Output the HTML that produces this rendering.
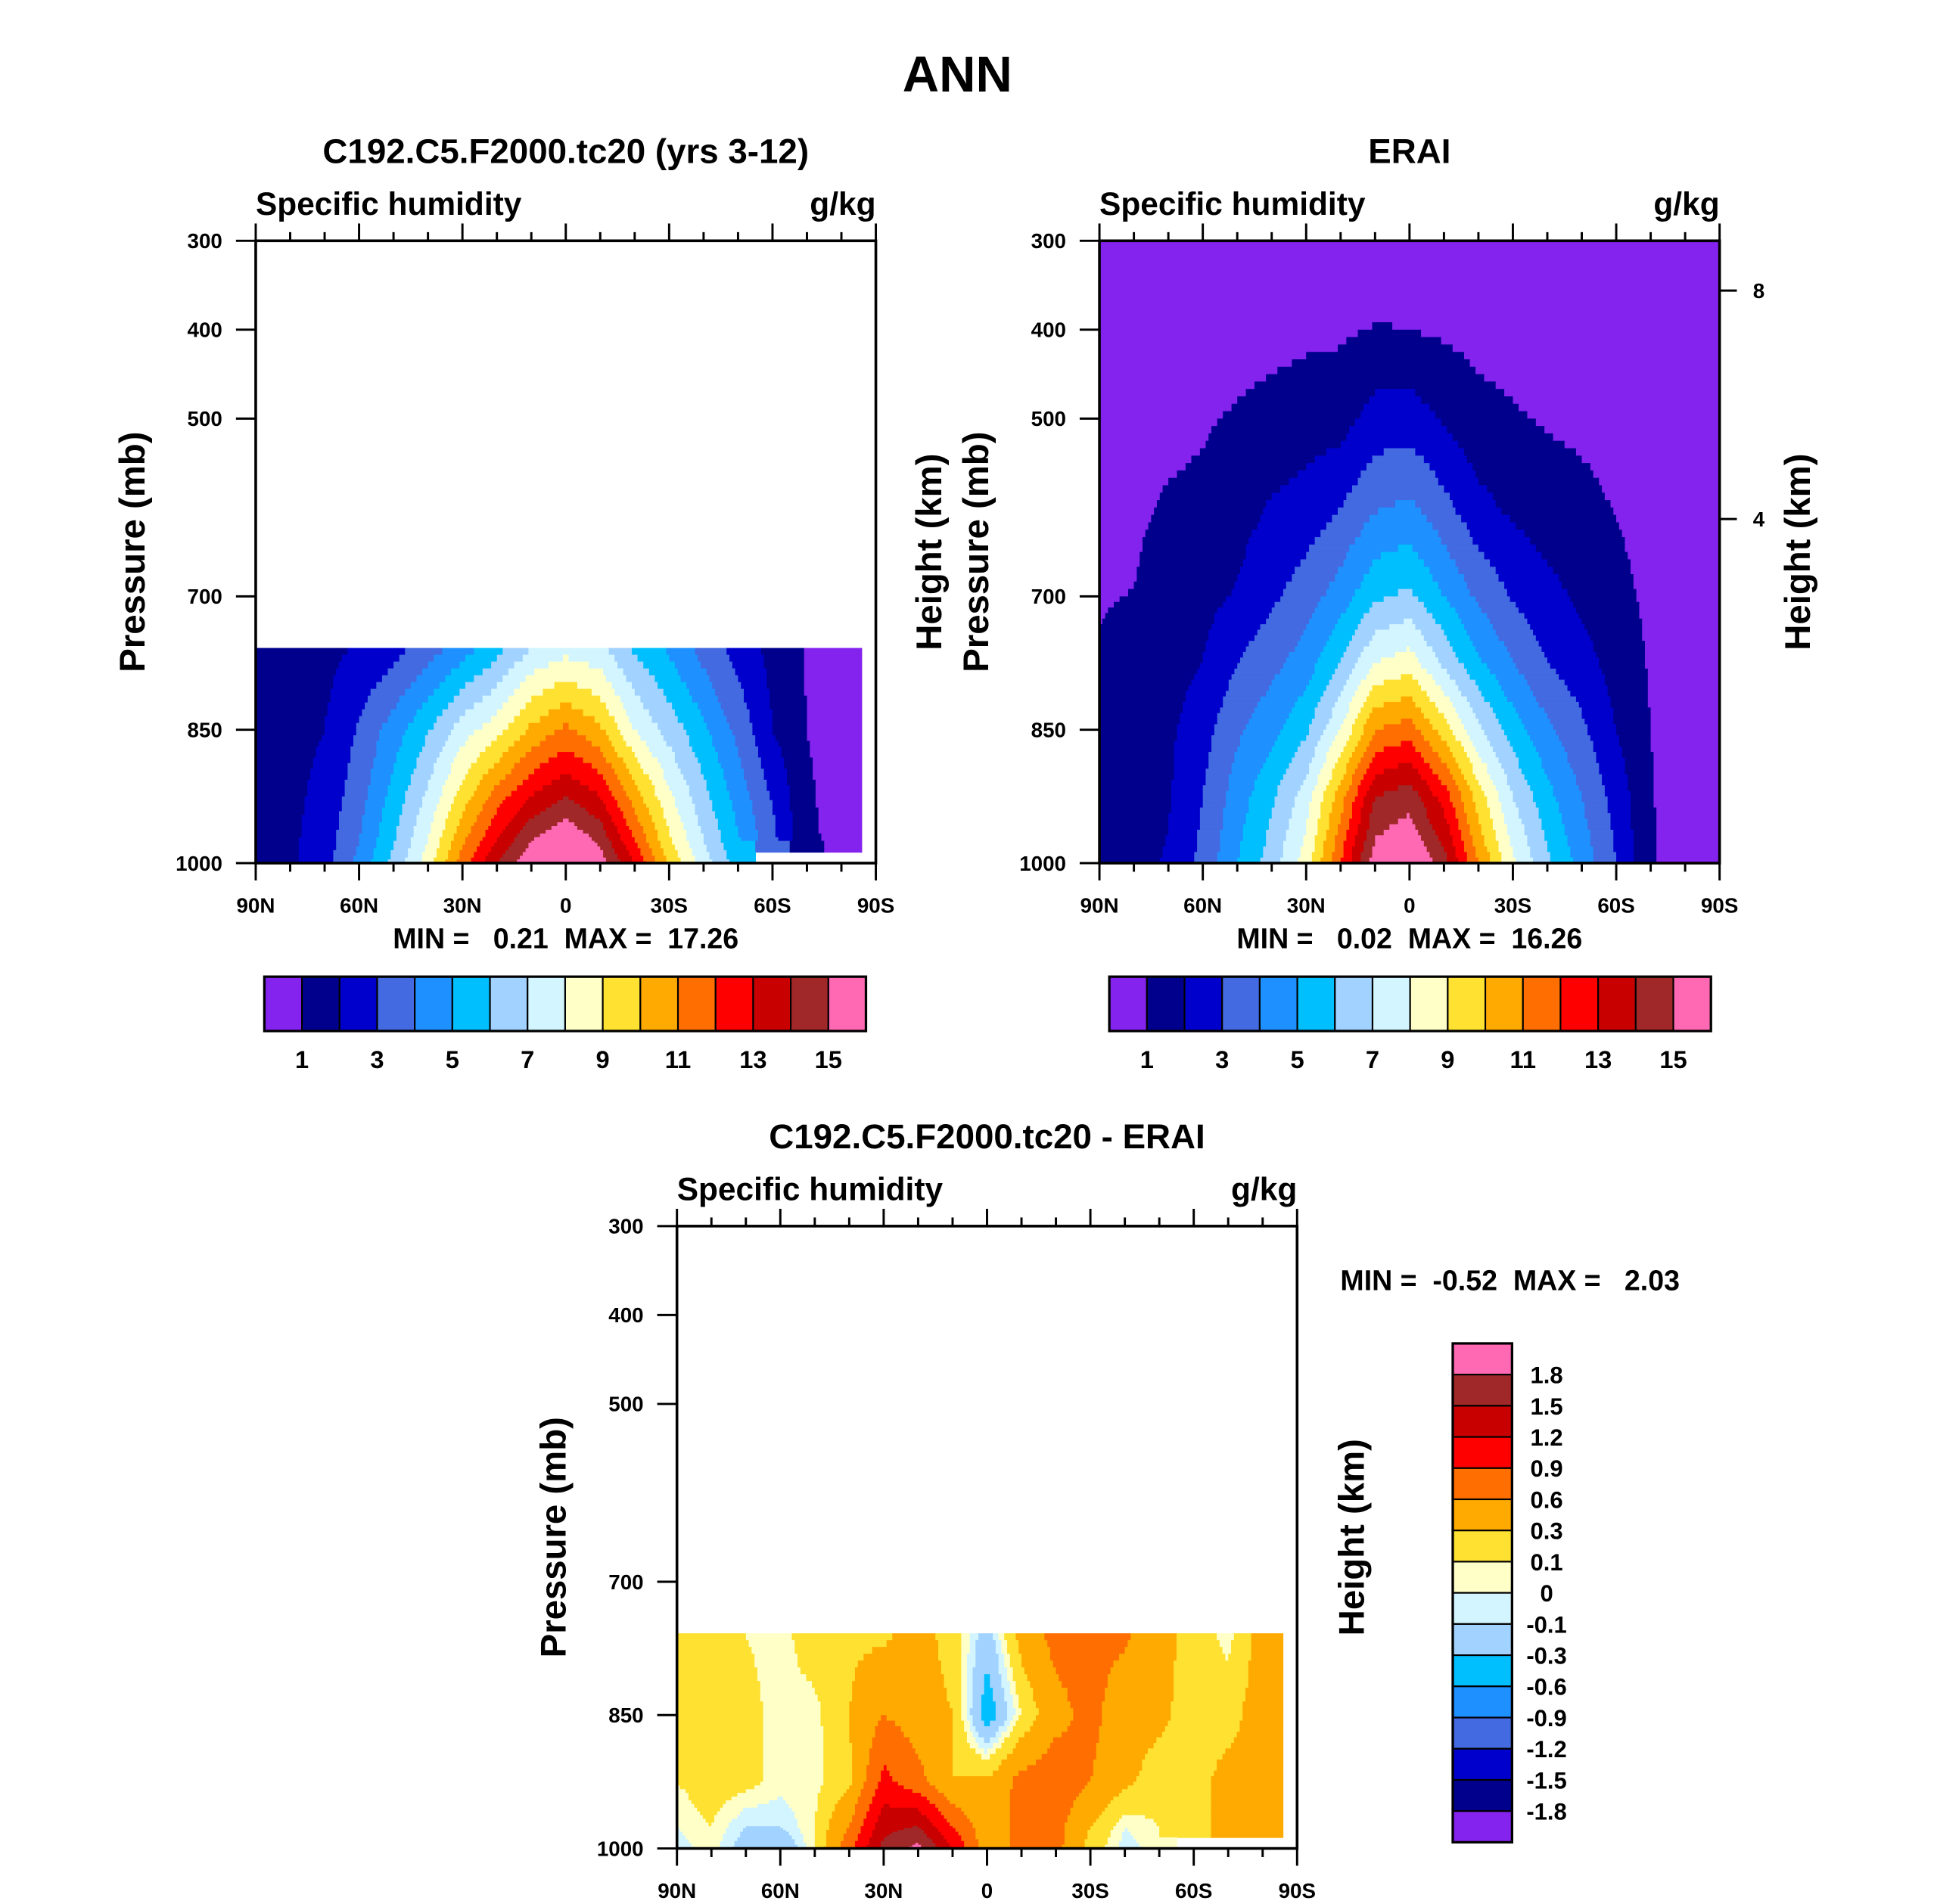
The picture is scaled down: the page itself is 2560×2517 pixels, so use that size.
<!DOCTYPE html>
<html><head><meta charset="utf-8"><style>
html,body{margin:0;padding:0;background:#fff;}
svg{display:block;font-family:"Liberation Sans",sans-serif;font-weight:bold;}
</style></head><body>
<svg id="fig" width="2560" height="2517" viewBox="0 0 1568 1542" preserveAspectRatio="none" xmlns="http://www.w3.org/2000/svg">
<text x="775" y="74" font-size="41" text-anchor="middle">ANN</text>
</svg>
<script>
// ---------- data ----------
const lats = [90,80,70,60,50,40,30,20,10,0,-10,-20,-30,-40,-50,-60,-70,-80,-90];
const latTicks = [90,60,30,0,-30,-60,-90];
const latTickLabels = ["90N","60N","30N","0","30S","60S","90S"];
const presTicks = [300,400,500,700,850,1000];
const heightTicks = [8,4];
const heightTickPres = [356,613];

const qLevels = [1,2,3,4,5,6,7,8,9,10,11,12,13,14,15];
const qLabels = ["1","3","5","7","9","11","13","15"];
const diffLevels = [-1.8,-1.5,-1.2,-0.9,-0.6,-0.3,-0.1,0,0.1,0.3,0.6,0.9,1.2,1.5,1.8];
const diffLabels = ["-1.8","-1.5","-1.2","-0.9","-0.6","-0.3","-0.1","0","0.1","0.3","0.6","0.9","1.2","1.5","1.8"];
const colors = ["#8422EE","#00008C","#0000CD","#436AE0","#1E90FF","#00BFFF","#A2D2FF","#D2F5FF","#FFFFC8","#FFE132","#FFAA00","#FF6E00","#FF0000","#C80000","#A02828","#FF69B4"];

// model: pressures 758,850,925,975,1000 ; rows by pressure, columns by lat
const modelPres = [758,850,925,975,1000];
const modelQ758 = [1.5,1.6,1.7,2.1,2.6,3.5,4.5,5.6,7.0,7.6,7.2,5.8,4.8,3.6,2.6,1.7,0.9,0.6,0.6];
const modelQ850 = [1.5,1.7,2.0,3.1,4.5,5.9,7.5,8.6,10.2,11.2,10.2,8.0,6.6,5.2,3.7,2.0,1.0,0.7,0.7];
const modelQ925 = [1.5,1.75,2.3,3.6,5.4,7.2,9.5,11.5,13,14,13,10.5,8.2,6.3,4.6,2.9,1.1,0.7,0.7];
const modelQ975 = [1.5,1.8,2.5,4.0,5.9,8.0,10.8,13,15,16,14.8,12,9.2,7.0,5.1,3.3,1.2,0.7,0.7];
const modelQ1000 = [1.5,1.8,2.6,4.3,6.3,8.5,11.5,14,15.8,16.8,15.5,13,9.8,7.5,5.5,null,null,null,null];

// ERAI: pressures 300..1000, one column per latitude
const eraPres = [300,400,500,600,700,775,850,925,1000];
const era90N = [0.3,0.5,0.7,0.85,0.95,1.05,1.3,1.4,1.5];
const era80N = [0.3,0.5,0.7,0.85,1.02,1.3,1.5,1.6,1.7];
const era70N = [0.3,0.5,0.75,1.1,1.4,1.6,1.8,1.9,2.1];
const era60N = [0.3,0.5,0.9,1.2,1.7,2.0,2.6,3.0,3.3];
const era50N = [0.3,0.6,1.1,1.6,2.1,3.0,3.8,4.5,5.0];
const era40N = [0.3,0.7,1.3,2.1,2.8,3.7,4.7,5.8,6.5];
const era30N = [0.3,0.8,1.5,2.4,3.5,4.5,5.8,7.5,8.5];
const era20N = [0.35,0.85,1.6,3.0,4.5,6.0,8.0,10.5,12];
const era10N = [0.4,1.05,2.4,3.9,5.8,8.0,11,14,15.6];
const era0 = [0.4,1.0,2.5,4.2,6.2,8.5,11.5,14.6,16.2];
const era10S = [0.35,0.85,1.9,3.3,5.0,6.8,9.5,12.5,14.5];
const era20S = [0.3,0.7,1.3,2.3,3.8,5.2,7.2,9.5,11];
const era30S = [0.3,0.6,1.1,1.8,2.9,4.0,5.5,7.0,8.2];
const era40S = [0.3,0.55,0.9,1.5,2.3,3.0,4.2,5.3,6.2];
const era50S = [0.3,0.5,0.8,1.25,1.8,2.4,3.2,4.0,4.6];
const era60S = [0.3,0.45,0.7,0.95,1.3,1.6,2.0,2.6,3.0];
const era70S = [0.2,0.35,0.5,0.65,0.8,0.9,1.0,1.05,1.1];
const era80S = [0.1,0.2,0.3,0.4,0.5,0.6,0.6,0.6,0.6];
const era90S = [0.1,0.15,0.2,0.3,0.4,0.5,0.5,0.5,0.5];

// difference: pressures 758,850,925,975,1000
const diff758 = [0.2,0.2,0.1,0.05,0.2,0.25,0.25,0.4,0.2,-0.2,0.4,0.7,0.7,0.65,0.4,0.2,0.05,0.4,0.4];
const diff850 = [0.2,0.2,0.15,0.05,0.05,0.3,0.6,0.45,0.3,-0.45,0.1,0.5,0.7,0.4,0.35,0.2,0.2,0.45,0.45];
const diff925 = [0.1,0.2,0.15,0.05,0.05,0.25,1.0,0.7,0.3,0.35,0.7,0.8,0.6,0.35,0.2,0.2,0.4,0.4,0.4];
const diff975 = [0.0,0.1,-0.1,-0.1,0.1,0.6,1.4,1.5,0.9,0.4,0.7,0.7,0.3,0.0,0.1,0.2,0.4,0.4,0.4];
const diff1000 = [-0.05,0.05,-0.2,-0.3,0.1,0.8,1.6,1.9,1.2,0.4,0.7,0.7,0.2,-0.05,0.05,null,null,null,null];

// ---------- drawing ----------
const NS = "http://www.w3.org/2000/svg";
const svg = document.getElementById("fig");
function mk(tag, attrs, parent){ const e=document.createElementNS(NS,tag); for(const k in attrs) e.setAttribute(k,attrs[k]); (parent||svg).appendChild(e); return e; }
function txt(x,y,s,size,anchor,parent,rot){ const t=mk("text",{x:x,y:y,"font-size":size,"text-anchor":anchor||"start"},parent); if(rot) t.setAttribute("transform",`rotate(-90 ${x} ${y})`); t.textContent=s; return t; }
function colorIdx(v, levels){ let i=0; for(const L of levels){ if(v>=L) i++; } return i; }

function drawPlot(P){
  const g = mk("g",{});
  
  
  const xs = lat => P.x0 + (90-lat)/180*(P.x1-P.x0);
  const ys = p => P.y0 + (p-300)/700*(P.y1-P.y0);
  const field = mk("g",{},g);
  
  
  const pres = P.pres, grid = P.grid;
  const NSUB = 12;
  const latMin = (P.latMin===undefined)?-91:P.latMin;
  for(let j=0;j<pres.length-1;j++){
    for(let s=0;s<NSUB;s++){
      const ty=(s+0.5)/NSUB;
      const yA=ys(pres[j]+(pres[j+1]-pres[j])*s/NSUB), yB=ys(pres[j]+(pres[j+1]-pres[j])*(s+1)/NSUB);
      let runStart=null, runC=null;
      const cellsX=[];
      for(let i=0;i<lats.length-1;i++){
        for(let t=0;t<NSUB;t++){
          const tx=(t+0.5)/NSUB;
          const a=grid[j][i], b=grid[j][i+1], c=grid[j+1][i], d=grid[j+1][i+1];
          const near=[[a,b],[c,d]][ty<0.5?0:1][tx<0.5?0:1];
          let v=null;
          if(a!=null&&b!=null&&c!=null&&d!=null){ v=(a*(1-tx)+b*tx)*(1-ty)+(c*(1-tx)+d*tx)*ty; }
          else if(near!=null){ v=near; }
          const latC = lats[i]+(lats[i+1]-lats[i])*tx;
          if(latC<latMin) v=null;
          const xa=xs(lats[i]+(lats[i+1]-lats[i])*t/NSUB), xb=xs(lats[i]+(lats[i+1]-lats[i])*(t+1)/NSUB);
          cellsX.push([xa,xb,v==null?null:colorIdx(v,P.levels)]);
        }
      }
      for(let k=0;k<=cellsX.length;k++){
        const cc = k<cellsX.length?cellsX[k][2]:undefined;
        if(k<cellsX.length && cc===runC && runStart!==null) continue;
        if(runStart!==null && runC!==null){
          const r=mk("rect",{x:runStart.toFixed(2),y:yA.toFixed(2),width:(cellsX[k-1][1]-runStart+0.5).toFixed(2),height:(yB-yA+0.5).toFixed(2),fill:colors[runC]},field);
          
          
        }
        if(k<cellsX.length){ runStart=cellsX[k][0]; runC=cc; }
      }
    }
  }
  const fr=mk("rect",{x:P.x0,y:P.y0,width:P.x1-P.x0,height:P.y1-P.y0,fill:"none",stroke:"#000","stroke-width":2.2},g);
  
  
  for(let lat=90;lat>=-90;lat-=10){
    const x=xs(lat), major=(lat%30===0), L=major?14:7;
    mk("line",{x1:x,y1:P.y0,x2:x,y2:P.y0-L,stroke:"#000","stroke-width":1.8},g);
    mk("line",{x1:x,y1:P.y1,x2:x,y2:P.y1+L,stroke:"#000","stroke-width":1.8},g);
  }
  latTicks.forEach((lat,k)=>{ const t=txt(xs(lat),P.y1+40,latTickLabels[k],17,"middle",g);
      });
  presTicks.forEach(p=>{ const y=ys(p);
    mk("line",{x1:P.x0-16,y1:y,x2:P.x0,y2:y,stroke:"#000","stroke-width":1.8},g);
    const t=txt(P.x0-27,y+6,String(p),17,"end",g);
      });
  if(P.heightAxis){ heightTicks.forEach((h,k)=>{ const y=ys(heightTickPres[k]);
    mk("line",{x1:P.x1,y1:y,x2:P.x1+14,y2:y,stroke:"#000","stroke-width":1.8},g);
    const t=txt(P.x1+27,y+6,String(h),17,"start",g);
      }); }
  const cy=(P.y0+P.y1)/2;
  const yt=txt(P.x0-90,cy,"Pressure (mb)",29,"middle",g,true);
   
  const t1=txt(P.x0,P.y0-21,"Specific humidity",26,"start",g);
   
  const t2=txt(P.x1,P.y0-21,"g/kg",26,"end",g);
   
  const t3=txt((P.x0+P.x1)/2,P.y0-63,P.title,28,"middle",g);
   
}

function hColorbar(x0,y0,w,h,levels,labels,every){
  const g=mk("g",{});  
  const n=levels.length+1, bw=w/n;
  for(let i=0;i<n;i++){ const r=mk("rect",{x:x0+i*bw,y:y0,width:bw,height:h,fill:colors[i],stroke:"#000","stroke-width":1.3},g);
      }
  mk("rect",{x:x0,y:y0,width:w,height:h,fill:"none",stroke:"#000","stroke-width":2},g);
  labels.forEach((s,k)=>{ const t=txt(x0+(k*every+1)*bw,y0+h+30,s,20,"middle",g);
      });
}
function vColorbar(x0,y0,w,h,levels,labels){
  const g=mk("g",{});  
  const n=levels.length+1, bh=h/n;
  for(let i=0;i<n;i++){ const r=mk("rect",{x:x0,y:y0+i*bh,width:w,height:bh,fill:colors[n-1-i],stroke:"#000","stroke-width":1.3},g);
      }
  mk("rect",{x:x0,y:y0,width:w,height:h,fill:"none",stroke:"#000","stroke-width":2},g);
  for(let k=0;k<labels.length;k++){ const s=labels[labels.length-1-k];
    const t=txt(x0+w+28,y0+(k+1)*bh+7,s,19,"middle",g);
      }
}

const modelGrid=[modelQ758,modelQ850,modelQ925,modelQ975,modelQ1000];
const eraCols=[era90N,era80N,era70N,era60N,era50N,era40N,era30N,era20N,era10N,era0,era10S,era20S,era30S,era40S,era50S,era60S,era70S,era80S,era90S];
const eraGrid=eraPres.map((p,pi)=>eraCols.map(c=>c[pi]));
const diffGrid=[diff758,diff850,diff925,diff975,diff1000];

drawPlot({name:"model-plot",x0:207,x1:709,y0:195,y1:699,pres:modelPres,grid:modelGrid,levels:qLevels,title:"C192.C5.F2000.tc20 (yrs 3-12)",latMin:-85.5});
drawPlot({name:"erai-plot",x0:890,x1:1392,y0:195,y1:699,pres:eraPres,grid:eraGrid,levels:qLevels,title:"ERAI",heightAxis:true});
drawPlot({name:"diff-plot",x0:548,x1:1050,y0:993,y1:1497,pres:modelPres,grid:diffGrid,levels:diffLevels,title:"C192.C5.F2000.tc20 - ERAI",latMin:-85.5});

hColorbar(214,791,487,44,qLevels,qLabels,2);
hColorbar(898,791,487,44,qLevels,qLabels,2);
vColorbar(1176,1088,48,404,diffLevels,diffLabels);

let t;
t=txt(458,768,"MIN =   0.21  MAX =  17.26",23,"middle");   t.style.whiteSpace='pre';
t=txt(1141,768,"MIN =   0.02  MAX =  16.26",23,"middle");   t.style.whiteSpace='pre';
t=txt(1085,1045,"MIN =  -0.52  MAX =   2.03",23,"start");   t.style.whiteSpace='pre';
t=txt(762,447,"Height (km)",29,"middle",null,true);  
t=txt(1465,447,"Height (km)",29,"middle",null,true);  
t=txt(1104,1245,"Height (km)",29,"middle",null,true);  
</script>
</body></html>
